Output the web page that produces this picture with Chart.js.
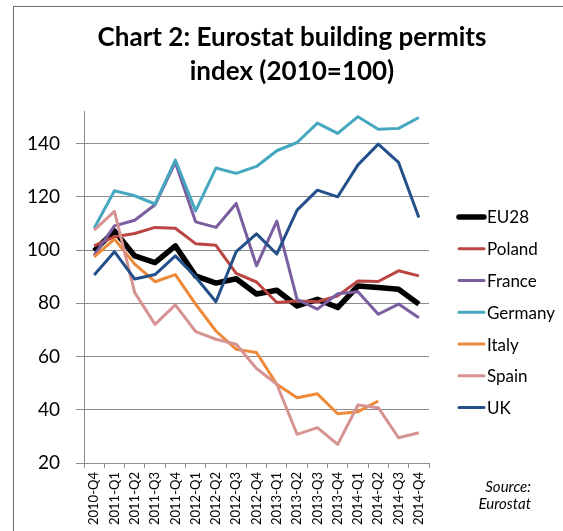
<!DOCTYPE html>
<html>
<head>
<meta charset="utf-8">
<title>Chart 2: Eurostat building permits index</title>
<script src="https://cdn.jsdelivr.net/npm/chart.js@4"></script>
<style>
  html, body { margin: 0; padding: 0; background: #fff; overflow: hidden; }
  #frame {
    position: absolute; left: 13px; top: 6px; width: 570px; height: 540px;
    border-left: 1px solid #6e6e6e; border-top: 1px solid #6e6e6e;
  }
  #wrap { position: absolute; left: 0; top: 0; width: 556px; height: 524px; }
</style>
</head>
<body>
<div id="frame">
  <div id="wrap"><canvas id="permitsChart"></canvas></div>
</div>
<script>
// Quarters on the x axis
const quarters = [
  '2010-Q4', '2011-Q1', '2011-Q2', '2011-Q3', '2011-Q4',
  '2012-Q1', '2012-Q2', '2012-Q3', '2012-Q4',
  '2013-Q1', '2013-Q2', '2013-Q3', '2013-Q4',
  '2014-Q1', '2014-Q2', '2014-Q3', '2014-Q4'
];

// Index values (2010=100)
const eu28    = [99.7, 107.2, 97.8, 95.3, 101.6, 90.3, 87.6, 89.2, 83.5, 84.9, 79.0, 81.5, 78.4, 86.5, 85.9, 85.3, 79.7];
const poland  = [101.6, 105.0, 106.2, 108.5, 108.2, 102.4, 101.8, 91.2, 88.0, 80.3, 80.9, 80.6, 82.8, 88.4, 88.2, 92.2, 90.3];
const france  = [98.0, 109.1, 111.2, 117.0, 132.9, 110.6, 108.5, 117.5, 94.1, 110.9, 81.5, 77.8, 83.6, 84.3, 75.9, 79.7, 74.6];
const germany = [108.2, 122.3, 120.4, 117.3, 133.8, 114.7, 130.8, 128.8, 131.4, 137.3, 140.4, 147.7, 143.8, 150.1, 145.4, 145.7, 149.8];
const italy   = [97.4, 104.1, 94.7, 88.1, 90.8, 79.7, 69.6, 62.7, 61.5, 49.6, 44.5, 46.0, 38.5, 39.3, 43.3, null, null];
const spain   = [107.5, 114.5, 84.0, 72.1, 79.4, 69.4, 66.5, 64.6, 55.5, 49.6, 30.8, 33.3, 27.0, 41.8, 40.8, 29.5, 31.4];
const uk      = [90.6, 99.4, 89.1, 90.8, 97.8, 89.9, 80.6, 99.4, 106.1, 98.5, 115.0, 122.5, 120.0, 132.0, 139.8, 132.9, 112.2];

const seriesNames = ['EU28', 'Poland', 'France', 'Germany', 'Italy', 'Spain', 'UK'];
const seriesData = [eu28, poland, france, germany, italy, spain, uk];
const seriesColors = ['#000000', '#bb4542', '#7b5e9f', '#46a7c0', '#ec8a3a', '#d69391', '#24508a'];
const seriesWidths = [5.5, 3, 3, 3, 3, 3, 3];

const FONT = 'Lato, "Open Sans", sans-serif';
const GRID = '#8c8c8c';

// Right-hand legend and the source note, drawn after the chart
const extrasPlugin = {
  id: 'extras',
  afterDraw(chart) {
    const ctx = chart.ctx;
    const area = chart.chartArea;
    ctx.save();
    const x0 = area.right + 30;
    chart.data.datasets.forEach((ds, i) => {
      const y = 210 + i * 31.77;
      ctx.beginPath();
      ctx.strokeStyle = ds.borderColor;
      ctx.lineWidth = ds.borderWidth;
      ctx.lineCap = 'round';
      ctx.moveTo(x0, y);
      ctx.lineTo(x0 + 25, y);
      ctx.stroke();
      ctx.fillStyle = '#000';
      ctx.font = '17px ' + FONT;
      ctx.textBaseline = 'middle';
      ctx.textAlign = 'left';
      ctx.fillText(ds.label, x0 + 28, y + 1);
    });
    ctx.font = 'italic 15px ' + FONT;
    ctx.textAlign = 'right';
    ctx.fillText('Source:', 517, 480);
    ctx.fillText('Eurostat', 517, 497);
    ctx.restore();
  }
};

const ctx = document.getElementById('permitsChart').getContext('2d');
new Chart(ctx, {
  type: 'line',
  data: {
    labels: quarters,
    datasets: seriesNames.map((name, i) => ({
      label: name,
      data: seriesData[i],
      borderColor: seriesColors[i],
      backgroundColor: seriesColors[i],
      borderWidth: seriesWidths[i],
      borderJoinStyle: 'round',
      pointRadius: 0,
      tension: 0,
      yAxisID: 'y',
      order: seriesNames.length - i
    }))
  },
  options: {
    responsive: true,
    maintainAspectRatio: false,
    animation: false,
    layout: { padding: { left: 0, right: 0, top: 0, bottom: 2 } },
    plugins: {
      legend: { display: false },
      tooltip: { enabled: false },
      title: {
        display: true,
        text: ['Chart 2: Eurostat building permits', 'index (2010=100)'],
        color: '#000',
        font: { family: FONT, size: 26, weight: 'bold', lineHeight: 1.3 },
        padding: { top: 14, bottom: 23 }
      }
    },
    scales: {
      x: {
        type: 'category',
        offset: true,
        grid: { offset: true, drawOnChartArea: false, tickLength: 5, color: GRID },
        border: { color: GRID },
        ticks: {
          autoSkip: false, minRotation: 90, maxRotation: 90,
          padding: 4, color: '#000', font: { family: FONT, size: 13 }
        }
      },
      y: {
        min: 20,
        max: 152,
        grid: { color: GRID, tickLength: 8 },
        border: { color: GRID },
        ticks: {
          stepSize: 20, includeBounds: false,
          padding: 16, color: '#000', font: { family: FONT, size: 19 }
        },
        afterFit(scale) { scale.width = 70; }
      },
      // empty axis that only reserves room for the legend on the right
      side: {
        position: 'right',
        grid: { display: false },
        border: { display: false },
        ticks: { display: false },
        afterFit(scale) { scale.width = 141; }
      }
    }
  },
  plugins: [extrasPlugin]
});
</script>
</body>
</html>
